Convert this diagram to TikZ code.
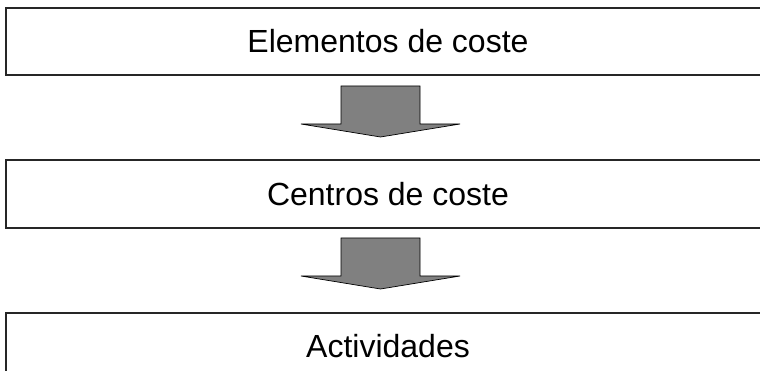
\documentclass[tikz,border=0pt]{standalone}
\usepackage{fontspec}
\setmainfont{Liberation Sans}
\usepackage{xcolor}

\definecolor{flechagris}{HTML}{808080}

\tikzset{
	caja/.style={draw=black!85,line width=1.3pt,fill=white,minimum width=764pt,inner sep=0pt,
		font=\fontsize{32pt}{36pt}\selectfont},
	flecha/.pic={
		\filldraw[fill=flechagris,draw=black,line width=0.7pt,line join=miter]
			(-39.5,0) -- (39.5,0) -- (39.5,38) -- (79.5,38) -- (0,51)
			-- (-79.5,38) -- (-39.5,38) -- cycle;
	}
}

\begin{document}
\begin{tikzpicture}[x=1pt,y=-1pt]
		\useasboundingbox (0,0) rectangle (760,371);
		\clip (0,0) rectangle (760,371);
		% cajas
		\node[caja,minimum height=67pt] (elementos) at (388,41.5) {Elementos de coste};
		\node[caja,minimum height=68pt] (centros) at (388,194) {Centros de coste};
		\node[caja,minimum height=67pt] (actividades) at (388,346.5) {Actividades};
		% flechas
		\pic (flecha1) at (380.5,86) {flecha};
		\pic (flecha2) at (380.5,238) {flecha};
\end{tikzpicture}
\end{document}
